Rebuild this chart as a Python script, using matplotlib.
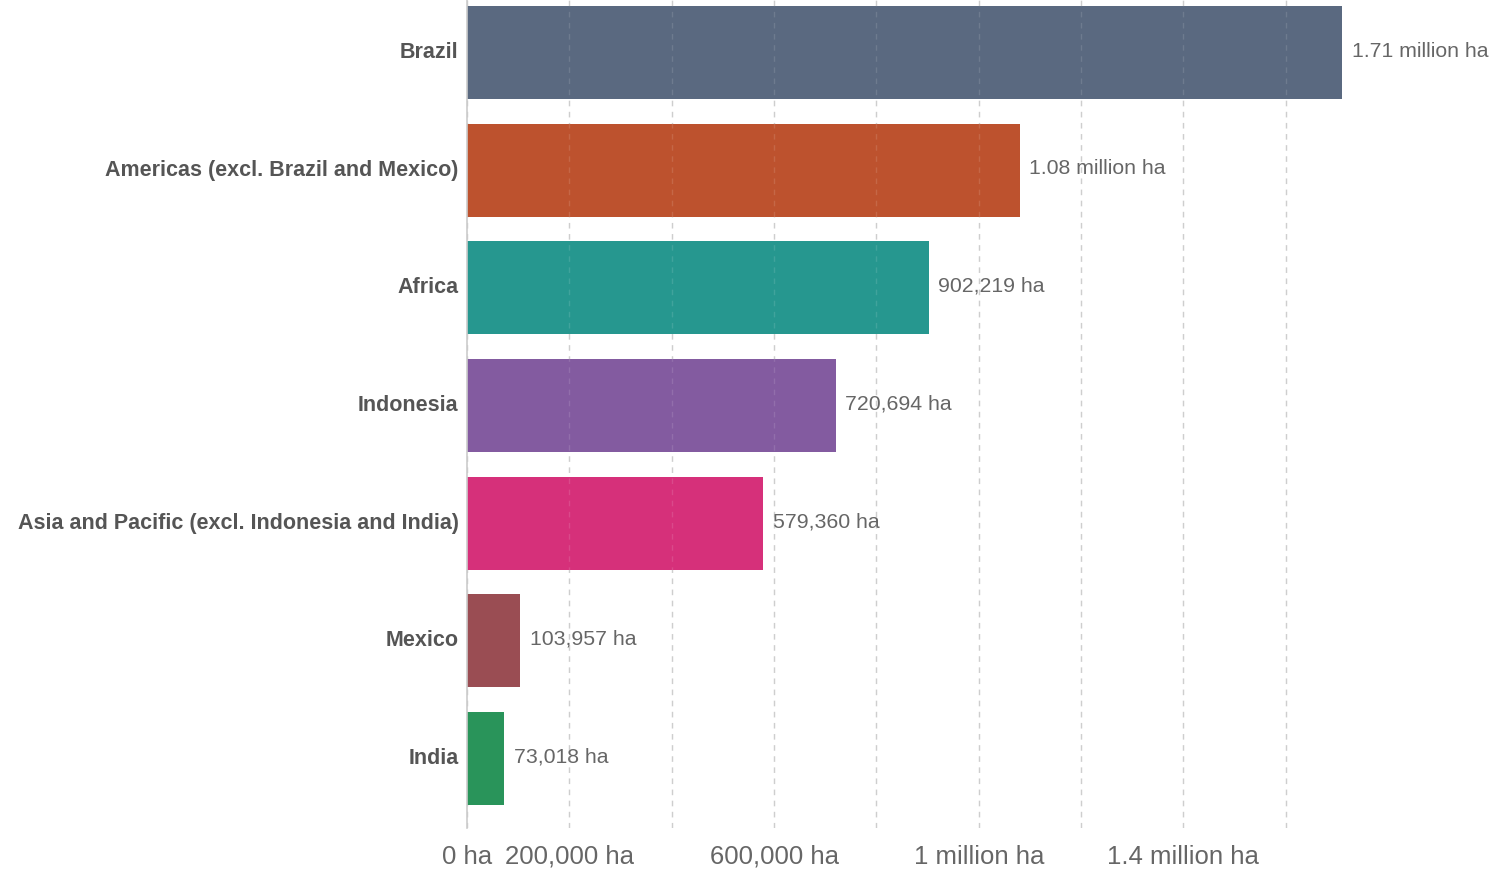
import matplotlib
matplotlib.use("Agg")
import matplotlib.pyplot as plt

plt.rcParams['font.family'] = ['Liberation Sans', 'DejaVu Sans']

regions = ['Brazil', 'Americas (excl. Brazil and Mexico)', 'Africa', 'Indonesia',
           'Asia and Pacific (excl. Indonesia and India)', 'Mexico', 'India']
area_ha = [1710000, 1080000, 902219, 720694, 579360, 103957, 73018]
value_labels = ['1.71 million ha', '1.08 million ha', '902,219 ha', '720,694 ha',
                '579,360 ha', '103,957 ha', '73,018 ha']
colors = ['#5a6980', '#bd522e', '#26978f', '#835ba0', '#d6307a', '#9a4d53', '#29945a']

tick_vals = [0, 200000, 400000, 600000, 800000, 1000000, 1200000, 1400000, 1600000]
tick_labels = ['0 ha', '200,000 ha', '', '600,000 ha', '', '1 million ha', '', '1.4 million ha', '']

fig = plt.figure(figsize=(14.99, 8.69), dpi=100)
ax = fig.add_axes([467/1499, 1 - 828/869, (1342 - 467)/1499, 828/869])

ypos = list(range(len(regions)))
ax.barh(ypos, area_ha, height=0.79, color=colors, zorder=2)

for y, v, lab in zip(ypos, area_ha, value_labels):
    ax.annotate(lab, (v, y), xytext=(7, 1), textcoords='offset points',
                va='center', ha='left', fontsize=15.3, color='#666666', clip_on=False)

ax.set_xlim(0, 1710000)
ax.set_ylim(6.59, -0.446)
ax.set_yticks(ypos)
ax.set_yticklabels(regions, fontsize=15.5, fontweight='bold', color='#555555',
                   va='center')
ax.set_xticks(tick_vals)
ax.set_xticklabels(tick_labels, fontsize=18.5, color='#666666')

ax.tick_params(axis='y', length=0, pad=6)
ax.tick_params(axis='x', length=0, pad=12)
# faint dashed grid, shows through the bars a little like the original
ax.grid(axis='x', linestyle=(0, (4, 4)), color='#c8c8c8', linewidth=1, zorder=1)
for x in tick_vals[1:]:
    ax.axvline(x, linestyle=(0, (4, 4)), color='white', linewidth=1, alpha=0.12, zorder=3)
ax.set_axisbelow(True)
for s in ['top', 'right', 'bottom']:
    ax.spines[s].set_visible(False)
ax.spines['left'].set_color('#cccccc')
ax.spines['left'].set_linewidth(1.2)

plt.savefig('out.png', dpi=100, facecolor='w')
